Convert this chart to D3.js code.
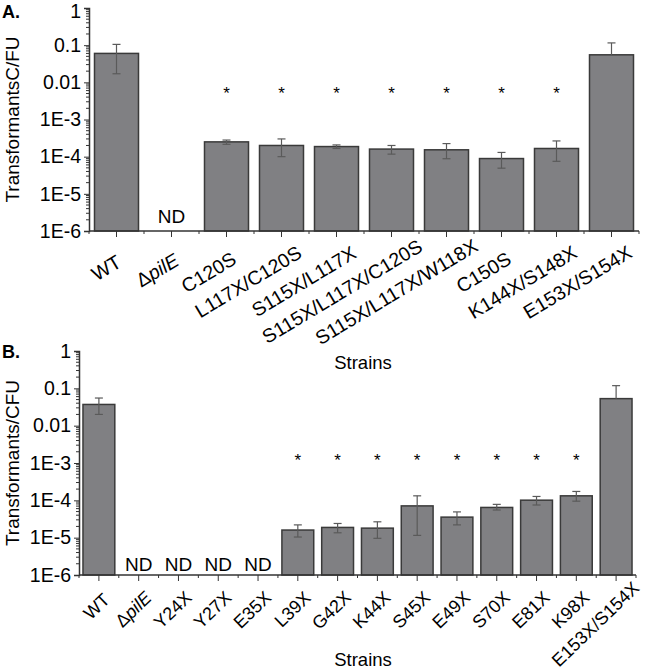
<!DOCTYPE html>
<html>
<head>
<meta charset="utf-8">
<script src="https://cdn.jsdelivr.net/npm/d3@7"></script>
<style>
  body { margin: 0; background: #fff; }
  svg { display: block; font-family: Arial, "Liberation Sans", sans-serif; }
</style>
</head>
<body>
<svg id="chart" width="649" height="670"></svg>
<script>
// panel A data (null = not detected)
var strainsA = ["WT", "ΔpilE", "C120S", "L117X/C120S", "S115X/L117X", "S115X/L117X/C120S",
  "S115X/L117X/W118X", "C150S", "K144X/S148X", "E153X/S154X"];
var meansA = [0.06, null, 2.5e-4, 2.0e-4, 1.87e-4, 1.6e-4, 1.53e-4, 8.9e-5, 1.66e-4, 0.055];
var lowA = [0.017, null, 2.15e-4, 1.0e-4, 1.66e-4, 1.17e-4, 8.8e-5, 4.9e-5, 7.5e-5, 0.055];
var highA = [0.105, null, 2.8e-4, 3.0e-4, 2.07e-4, 2.0e-4, 2.25e-4, 1.3e-4, 2.65e-4, 0.115];
var starsA = [0, 0, 1, 1, 1, 1, 1, 1, 1, 0];

// panel B data
var strainsB = ["WT", "ΔpilE", "Y24X", "Y27X", "E35X", "L39X", "G42X", "K44X", "S45X",
  "E49X", "S70X", "E81X", "K98X", "E153X/S154X"];
var meansB = [0.037, null, null, null, null, 1.6e-5, 1.88e-5, 1.8e-5, 7.1e-5, 3.55e-5,
  6.45e-5, 1.01e-4, 1.32e-4, 0.053];
var lowB = [0.02, null, null, null, null, 1.04e-5, 1.35e-5, 9.6e-6, 1.15e-5, 2.2e-5,
  5.5e-5, 7.5e-5, 9.5e-5, 0.053];
var highB = [0.055, null, null, null, null, 2.2e-5, 2.4e-5, 2.66e-5, 1.32e-4, 4.9e-5,
  7.8e-5, 1.27e-4, 1.73e-4, 0.118];
var starsB = [0, 0, 0, 0, 0, 1, 1, 1, 1, 1, 1, 1, 1, 0];

var yTickVals = [1, 0.1, 0.01, 1e-3, 1e-4, 1e-5, 1e-6];
var yTickLabels = ["1", "0.1", "0.01", "1E-3", "1E-4", "1E-5", "1E-6"];

var svg = d3.select("#chart");

var drawPanel = function (p) {
  var g = svg.append("g");

  var x = d3.scaleBand()
    .domain(d3.range(p.strains.length))
    .range([p.left, p.right])
    .paddingInner(0.2)
    .paddingOuter(0.1);

  var y = d3.scaleLog()
    .domain([1e-6, 1])
    .range([p.bottom, p.top]);

  var step = x.step();
  var cx = function (i) { return x(i) + x.bandwidth() / 2; };

  // bars
  var idx = d3.range(p.strains.length).filter(function (i) { return p.means[i] !== null; });

  g.selectAll("rect.bar").data(idx).enter().append("rect")
    .attr("x", function (i) { return x(i); })
    .attr("y", function (i) { return y(p.means[i]); })
    .attr("width", x.bandwidth())
    .attr("height", function (i) { return p.bottom - y(p.means[i]); })
    .attr("fill", "#808083")
    .attr("stroke", "#3a3a3a")
    .attr("stroke-width", 1.5);

  // error bars
  var eb = g.selectAll("g.err").data(idx).enter().append("g")
    .attr("stroke", "#5a5a5a")
    .attr("stroke-width", 1.2);
  eb.append("line")
    .attr("x1", cx).attr("x2", cx)
    .attr("y1", function (i) { return y(p.high[i]); })
    .attr("y2", function (i) { return y(p.low[i]); });
  eb.append("line")
    .attr("x1", function (i) { return cx(i) - 4; })
    .attr("x2", function (i) { return cx(i) + 4; })
    .attr("y1", function (i) { return y(p.high[i]); })
    .attr("y2", function (i) { return y(p.high[i]); });
  eb.filter(function (i) { return p.low[i] < p.means[i]; }).append("line")
    .attr("x1", function (i) { return cx(i) - 4; })
    .attr("x2", function (i) { return cx(i) + 4; })
    .attr("y1", function (i) { return y(p.low[i]); })
    .attr("y2", function (i) { return y(p.low[i]); });

  // ND labels
  g.selectAll("text.nd")
    .data(d3.range(p.strains.length).filter(function (i) { return p.means[i] === null; }))
    .enter().append("text")
    .attr("x", cx)
    .attr("y", p.bottom - p.ndGap)
    .attr("text-anchor", "middle")
    .attr("font-size", 19)
    .text("ND");

  // significance stars
  g.selectAll("text.star")
    .data(d3.range(p.strains.length).filter(function (i) { return p.stars[i]; }))
    .enter().append("text")
    .attr("x", cx)
    .attr("y", p.starY)
    .attr("text-anchor", "middle")
    .attr("font-size", 17)
    .text("*");

  // y axis
  var yAxis = d3.axisLeft(y)
    .tickValues(yTickVals)
    .tickFormat(function (d, i) { return yTickLabels[i]; })
    .tickSize(5)
    .tickPadding(3);
  var ya = g.append("g")
    .attr("transform", "translate(" + p.left + ",0)")
    .call(yAxis);
  ya.selectAll("text").attr("font-size", 19.5).attr("fill", "#000");
  // keep the top "1" inside the frame
  ya.selectAll("text").filter(function (d) { return d === 1; }).attr("dy", p.topLabelDy);

  var minor = [];
  d3.range(-6, 0).forEach(function (e) {
    d3.range(2, 10).forEach(function (m) { minor.push(m * Math.pow(10, e)); });
  });
  g.selectAll("line.minor").data(minor).enter().append("line")
    .attr("x1", p.left - 3).attr("x2", p.left)
    .attr("y1", function (d) { return y(d); })
    .attr("y2", function (d) { return y(d); })
    .attr("stroke", "#333");

  // x axis
  g.append("line")
    .attr("x1", p.left).attr("x2", p.right)
    .attr("y1", p.bottom).attr("y2", p.bottom)
    .attr("stroke", "#333").attr("stroke-width", 1.5);
  g.selectAll("line.xmaj").data(d3.range(p.strains.length)).enter().append("line")
    .attr("x1", cx).attr("x2", cx)
    .attr("y1", p.bottom).attr("y2", p.bottom + 6)
    .attr("stroke", "#333");
  g.selectAll("line.xmin").data(d3.range(p.strains.length + 1)).enter().append("line")
    .attr("x1", function (i) { return p.left + i * step; })
    .attr("x2", function (i) { return p.left + i * step; })
    .attr("y1", p.bottom).attr("y2", p.bottom + 3)
    .attr("stroke", "#333");

  ya.select(".domain").attr("stroke", "#333").attr("stroke-width", 1.5);
  ya.selectAll(".tick line").attr("stroke", "#333");

  // rotated category labels, pivot sits a fifth of the way in from the text end
  var lab = g.selectAll("text.xl").data(d3.range(p.strains.length)).enter().append("text")
    .attr("transform", function (i) {
      return "translate(" + (cx(i) + p.labShift) + "," + (p.bottom + p.labDrop) + ") rotate(" + p.angle + ")";
    })
    .attr("text-anchor", "end")
    .attr("font-size", p.labSize);
  lab.each(function (i) {
    var t = d3.select(this);
    var s = p.strains[i];
    if (s.indexOf("Δ") === 0) {
      t.append("tspan").text("Δ");
      t.append("tspan").attr("font-style", "italic").text(s.slice(1));
    } else {
      t.text(s);
    }
    t.attr("x", 0.2 * this.getComputedTextLength());
  });

  // axis titles
  g.append("text")
    .attr("transform", "translate(" + p.titleX + "," + ((p.top + p.bottom) / 2) + ") rotate(-90)")
    .attr("text-anchor", "middle")
    .attr("font-size", 19)
    .text(p.yTitle);
  g.append("text")
    .attr("x", 363).attr("y", p.strainsY)
    .attr("text-anchor", "middle")
    .attr("font-size", 18.5)
    .text("Strains");
  g.append("text")
    .attr("x", 2).attr("y", p.letterY)
    .attr("font-size", 18)
    .attr("font-weight", "bold")
    .text(p.letter);
};

drawPanel({
  strains: strainsA, means: meansA, low: lowA, high: highA, stars: starsA,
  left: 89, right: 639, top: 8, bottom: 231,
  ndGap: 8, starY: 99, angle: -31, labSize: 19.5, labDrop: 38, labShift: 1,
  titleX: 19, strainsY: 369, letterY: 18, topLabelDy: "0.5em",
  yTitle: "TransformantsC/FU", letter: "A."
});

drawPanel({
  strains: strainsB, means: meansB, low: lowB, high: highB, stars: starsB,
  left: 79, right: 636, top: 351, bottom: 575,
  ndGap: 4, starY: 466, angle: -44, labSize: 18, labDrop: 30, labShift: 8,
  titleX: 19, strainsY: 666, letterY: 358, topLabelDy: "0.32em",
  yTitle: "Transformants/CFU", letter: "B."
});
</script>
</body>
</html>
